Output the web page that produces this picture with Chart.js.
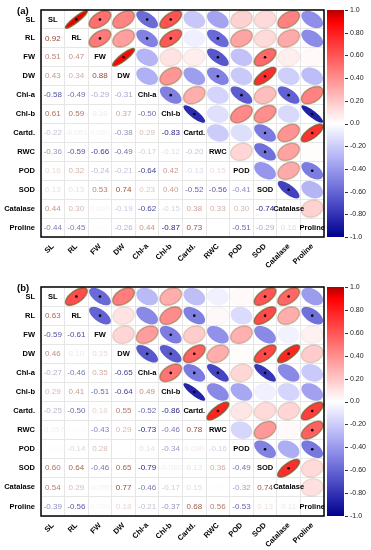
<!DOCTYPE html>
<html lang="en">
<head>
  <meta charset="UTF-8">
  <title>Correlation matrices</title>
  <script src="https://cdn.jsdelivr.net/npm/chart.js"></script>
  <style>
    html, body { margin: 0; padding: 0; background: #fff; }
    canvas { display: block; }
  </style>
</head>
<body>
  <canvas id="chartA" width="371" height="272"></canvas>
  <canvas id="chartB" width="371" height="278"></canvas>

  <script>
    const traits = ['SL', 'RL', 'FW', 'DW', 'Chl-a', 'Chl-b', 'Cartd.', 'RWC', 'POD', 'SOD', 'Catalase', 'Proline'];

    // lower triangle, one row per trait starting at RL
    const lowerA = [
      [0.92],
      [0.51, 0.47],
      [0.43, 0.34, 0.88],
      [-0.58, -0.49, -0.29, -0.31],
      [0.61, 0.59, 0.10, 0.37, -0.50],
      [-0.22, -0.061, 0.06, -0.38, 0.29, -0.83],
      [-0.36, -0.59, -0.66, -0.49, -0.17, -0.12, -0.20],
      [0.16, 0.32, -0.24, -0.21, -0.64, 0.42, -0.13, 0.15],
      [0.13, 0.13, 0.53, 0.74, 0.23, 0.40, -0.52, -0.56, -0.41],
      [0.44, 0.30, 0.06, -0.19, -0.62, -0.15, 0.38, 0.33, 0.30, -0.74],
      [-0.44, -0.45, 0.02, -0.26, 0.44, -0.87, 0.73, 0.01, -0.51, -0.29, 0.16]
    ];

    const lowerB = [
      [0.63],
      [-0.59, -0.61],
      [0.46, 0.10, 0.15],
      [-0.27, -0.46, 0.35, -0.65],
      [0.29, 0.41, -0.51, -0.64, 0.49],
      [-0.25, -0.50, 0.18, 0.55, -0.52, -0.86],
      [-0.057, 0.025, -0.43, 0.29, -0.73, -0.46, 0.78],
      [0.02, -0.14, 0.28, 0.01, 0.14, -0.34, 0.09, -0.16],
      [0.60, 0.64, -0.46, 0.65, -0.79, -0.060, 0.13, 0.36, -0.49],
      [0.54, 0.29, -0.05, 0.77, -0.46, -0.17, 0.15, 0.02, -0.32, 0.74],
      [-0.39, -0.56, 0.05, 0.18, -0.21, -0.37, 0.68, 0.56, -0.53, 0.13, 0.11]
    ];

    const cbTicks = [1, 0.8, 0.6, 0.4, 0.2, 0, -0.2, -0.4, -0.6, -0.8, -1];
    const cbLabels = ['1.0', '0.80', '0.60', '0.40', '0.20', '0.0', '-0.20', '-0.40', '-0.60', '-0.80', '-1.0'];

    const FONT = 'Arial, "Liberation Sans", Helvetica, sans-serif';
    const SIG = 0.47; // cells marked with a dot

    function fullMatrix(lower) {
      const n = traits.length;
      const m = [];
      for (let i = 0; i < n; i++) m.push(new Array(n).fill(1));
      lower.forEach((row, k) => {
        row.forEach((v, j) => { m[k + 1][j] = v; m[j][k + 1] = v; });
      });
      return m;
    }

    // colour scale: dark blue - white - red
    function corrRGB(v) {
      if (v >= 0) {
        const t = Math.min(v / 0.9, 1);
        let r = 255;
        if (v > 0.9) r = 255 - 800 * (v - 0.9);
        return [r, 255 * (1 - t), 255 * (1 - t)];
      }
      const t = Math.min(-v, 1);
      return [255 * (1 - t), 255 * (1 - t), 255 - 116 * t * t];
    }
    const rgb = c => 'rgb(' + c.map(Math.round).join(',') + ')';

    function textColor(v) {
      const t = Math.min(1, Math.abs(v) * 1.3);
      const end = v >= 0 ? [150, 70, 50] : [30, 30, 130];
      return rgb(end.map(e => 255 + (e - 255) * t));
    }

    function fmt(v) {
      return Math.abs(v) < 0.1 && v !== 0 ? v.toPrecision(2) : v.toFixed(2);
    }

    function ellipsePath(ctx, cx, cy, hw, hh, r) {
      const a = Math.sqrt(1 + Math.abs(r)), b = Math.sqrt(Math.max(1 - Math.abs(r), 0.0));
      const sign = r >= 0 ? -1 : 1;
      ctx.beginPath();
      for (let k = 0; k <= 72; k++) {
        const t = k / 72 * 2 * Math.PI;
        const X = (a * Math.cos(t) - b * Math.sin(t)) * Math.SQRT1_2;
        const Y = (a * Math.cos(t) + b * Math.sin(t)) * Math.SQRT1_2;
        const px = cx + X * hw, py = cy + sign * Y * hh;
        if (k === 0) ctx.moveTo(px, py); else ctx.lineTo(px, py);
      }
      ctx.closePath();
    }

    const corrPlugin = {
      id: 'corrCells',
      afterDatasetsDraw(chart) {
        const ctx = chart.ctx;
        const cw = chart.scales.x.width / traits.length;
        const ch = chart.scales.y.height / traits.length;
        ctx.save();
        chart.data.datasets.forEach((ds, di) => {
          const meta = chart.getDatasetMeta(di);
          meta.data.forEach((pt, k) => {
            const cell = ds.data[k];
            const v = cell.v;
            if (ds.kind === 'ellipse') {
              ellipsePath(ctx, pt.x, pt.y, cw * 0.46, ch * 0.46, v);
              ctx.fillStyle = rgb(corrRGB(v));
              ctx.fill();
              if (v > 0) {
                ctx.lineWidth = 1.5;
                ctx.strokeStyle = 'rgba(110,100,45,' + Math.min(0.85, v * 1.1).toFixed(2) + ')';
                ctx.stroke();
              }
              if (Math.abs(v) >= SIG) {
                ctx.beginPath();
                ctx.arc(pt.x, pt.y, 1.3, 0, 2 * Math.PI);
                ctx.fillStyle = '#000';
                ctx.fill();
              }
            } else if (ds.kind === 'number') {
              ctx.font = '8px ' + FONT;
              ctx.textAlign = 'center';
              ctx.textBaseline = 'middle';
              ctx.fillStyle = textColor(v);
              ctx.fillText(fmt(v), pt.x, pt.y);
            } else {
              ctx.font = 'bold 7.5px ' + FONT;
              ctx.textAlign = 'center';
              ctx.textBaseline = 'middle';
              ctx.fillStyle = '#000';
              ctx.fillText(cell.name, pt.x, pt.y);
            }
          });
        });
        ctx.restore();
      },
      afterDraw(chart, args, opts) {
        const ctx = chart.ctx;
        const area = chart.chartArea;
        const cb = chart.scales.cb;
        ctx.save();
        // plot frame
        ctx.strokeStyle = '#000';
        ctx.lineWidth = 1.5;
        ctx.strokeRect(area.left, area.top, area.right - area.left, area.bottom - area.top);
        // colour bar
        const x0 = area.right + 3, w = 17;
        const yTop = cb.getPixelForValue(1), yBot = cb.getPixelForValue(-1);
        const grad = ctx.createLinearGradient(0, yTop, 0, yBot);
        for (let k = 0; k <= 40; k++) {
          const v = 1 - k / 20;
          grad.addColorStop(k / 40, rgb(corrRGB(v)));
        }
        ctx.fillStyle = grad;
        ctx.fillRect(x0, yTop, w, yBot - yTop);
        ctx.strokeStyle = '#333';
        ctx.lineWidth = 1;
        cbTicks.forEach(v => {
          const y = Math.round(cb.getPixelForValue(v)) + 0.5;
          ctx.beginPath();
          ctx.moveTo(x0 + w + 1, y);
          ctx.lineTo(x0 + w + 4, y);
          ctx.stroke();
        });
        // panel letter
        ctx.font = 'bold 9.5px ' + FONT;
        ctx.fillStyle = '#000';
        ctx.textAlign = 'left';
        ctx.textBaseline = 'middle';
        ctx.fillText(opts.panel, area.left - 24, area.top + 1);
        ctx.restore();
      }
    };

    // fixed box sizes, no extra label padding around the plot
    function fixBox(s, size) {
      if (s.isHorizontal()) s.height = size; else s.width = size;
      s.paddingTop = 0;
      s.paddingBottom = 0;
      s.paddingLeft = 0;
      s.paddingRight = 0;
    }

    function buildChart(id, lower, panel, topPad, xHeight) {
      const m = fullMatrix(lower);
      const upper = [], numbers = [], diag = [];
      traits.forEach((rowName, i) => {
        traits.forEach((colName, j) => {
          const pt = { x: colName, y: rowName, v: m[i][j], name: rowName };
          if (j > i) upper.push(pt);
          else if (j < i) numbers.push(pt);
          else diag.push(pt);
        });
      });

      new Chart(document.getElementById(id), {
        type: 'scatter',
        data: {
          datasets: [
            { kind: 'ellipse', data: upper },
            { kind: 'number', data: numbers },
            { kind: 'label', data: diag }
          ]
        },
        options: {
          responsive: false,
          animation: false,
          events: [],
          layout: { padding: { top: topPad, left: 0, right: 0, bottom: 0 } },
          elements: { point: { radius: 0, hoverRadius: 0 } },
          plugins: {
            legend: { display: false },
            tooltip: { enabled: false },
            corrCells: { panel: panel }
          },
          scales: {
            x: {
              type: 'category',
              labels: traits,
              offset: true,
              grid: { offset: true, color: '#e6e6e6', drawTicks: false },
              border: { display: false },
              ticks: {
                autoSkip: false, minRotation: 45, maxRotation: 45, padding: 5,
                color: '#000', font: { size: 7.5, weight: 'bold', family: FONT }
              },
              afterFit: s => fixBox(s, xHeight)
            },
            y: {
              type: 'category',
              labels: traits,
              offset: true,
              grid: { offset: true, color: '#e6e6e6', drawTicks: false },
              border: { display: false },
              ticks: {
                autoSkip: false, padding: 6,
                color: '#000', font: { size: 7.5, weight: 'bold', family: FONT }
              },
              afterFit: s => fixBox(s, 41)
            },
            cb: {
              type: 'linear',
              axis: 'y',
              position: 'right',
              min: -1,
              max: 1,
              grid: { display: false, drawTicks: false },
              border: { display: false },
              afterBuildTicks: s => { s.ticks = cbTicks.map(v => ({ value: v })); },
              ticks: {
                padding: 26,
                color: '#222',
                font: { size: 7, family: FONT },
                callback: v => cbLabels[cbTicks.findIndex(t => Math.abs(t - v) < 1e-6)]
              },
              afterFit: s => fixBox(s, 47)
            }
          }
        },
        plugins: [corrPlugin]
      });
    }

    buildChart('chartA', lowerA, '(a)', 10, 35);
    buildChart('chartB', lowerB, '(b)', 15, 34);
  </script>
</body>
</html>
